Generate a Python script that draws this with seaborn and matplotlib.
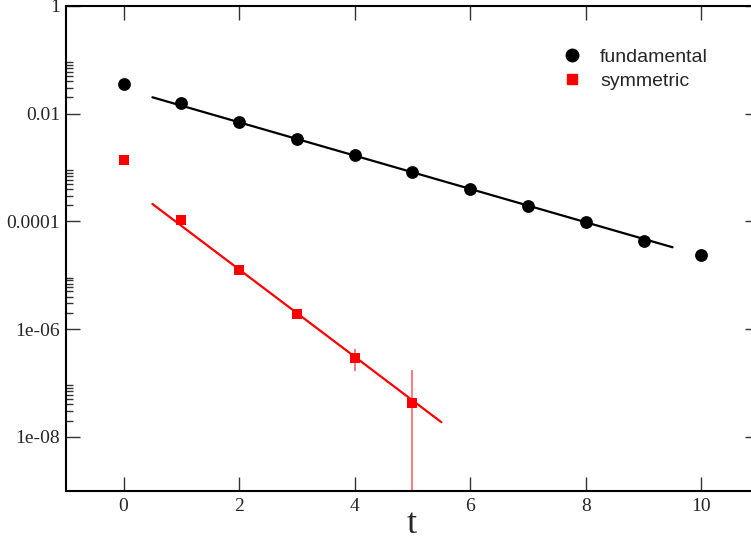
import numpy as np
import pandas as pd
import seaborn as sns
import matplotlib.pyplot as plt
from matplotlib.lines import Line2D
from matplotlib.ticker import FixedLocator, NullLocator

# data
t_vals = [0, 1, 2, 3, 4, 5, 6, 7, 8, 9, 10]
fund_vals = [0.0356, 0.0156, 0.00711, 0.00344, 0.00168, 8.17e-4,
             3.95e-4, 1.96e-4, 9.64e-5, 4.39e-5, 2.38e-5]
sym_t = [0, 1, 2, 3, 4, 5]
sym_vals = [1.41e-3, 1.06e-4, 1.25e-5, 1.95e-6, 2.95e-7, 4.20e-8]
sym_err = [0.0, 0.0, 0.0, 0.0, 1.28e-7, 1.32e-7]
fund_fit_t = [0.5, 9.5]
fund_fit_vals = [0.0202, 3.31e-5]
sym_fit_t = [0.5, 5.5]
sym_fit_vals = [2.11e-4, 1.87e-8]
y_major = [1e-8, 1e-6, 1e-4, 1e-2, 1]
y_major_labels = ["1e-08", "1e-06", "0.0001", "0.01", "1"]
x_major = [0, 2, 4, 6, 8, 10]

fund_df = pd.DataFrame({"t": t_vals, "C": fund_vals})
sym_df = pd.DataFrame({"t": sym_t, "C": sym_vals, "err": sym_err})
fund_fit = pd.DataFrame({"t": fund_fit_t, "C": fund_fit_vals})
sym_fit = pd.DataFrame({"t": sym_fit_t, "C": sym_fit_vals})

sns.set_style("ticks")
plt.rcParams["font.family"] = ["Liberation Serif", "DejaVu Serif"]

W, H = 751, 541
fig = plt.figure(figsize=(W / 100, H / 100), dpi=100)
ax = fig.add_axes([65.7 / W, (H - 490.7) / H, 693.6 / W, 484.7 / H])
ax.set_yscale("log")

# error bars (only visible ones exceed marker size)
ax.errorbar(sym_df["t"], sym_df["C"], yerr=sym_df["err"], fmt="none",
            ecolor="#ff7070", elinewidth=1.3, capsize=0, zorder=1)

sns.lineplot(data=fund_fit, x="t", y="C", color="black", linewidth=1.6,
             ax=ax, zorder=2)
sns.lineplot(data=sym_fit, x="t", y="C", color="red", linewidth=1.6,
             ax=ax, zorder=2)

sns.scatterplot(data=fund_df, x="t", y="C", marker="o", color="black",
                s=85, linewidth=0, ax=ax, zorder=3)
sns.scatterplot(data=sym_df, x="t", y="C", marker="s", color="red",
                s=55, linewidth=0, ax=ax, zorder=3)

ax.set_xlim(-1, 11)
ax.set_ylim(1e-9, 1)

ax.xaxis.set_major_locator(FixedLocator(x_major))
ax.xaxis.set_minor_locator(NullLocator())
ax.set_xticklabels([str(v) for v in x_major])
ax.yaxis.set_major_locator(FixedLocator(y_major))
y_minor = [k * 10.0 ** e for e in (-8, -6, -4, -2) for k in range(2, 10)]
ax.yaxis.set_minor_locator(FixedLocator(y_minor))
ax.set_yticklabels(y_major_labels)

ax.tick_params(which="both", direction="in", top=True, right=True,
               color="#333333", width=1.0, labelsize=14)
ax.tick_params(which="major", length=10)
ax.tick_params(which="minor", length=5)
ax.tick_params(axis="y", pad=4)
ax.tick_params(axis="x", pad=5)

for sp in ax.spines.values():
    sp.set_visible(True)
    sp.set_linewidth(1.5)
    sp.set_color("black")

ax.set_xlabel("")
ax.set_ylabel("")
fig.text(412 / W, 1 - 533 / H, "t", fontsize=26, ha="center", va="baseline")

handles = [
    Line2D([], [], marker="o", color="black", linestyle="none", markersize=9),
    Line2D([], [], marker="s", color="red", linestyle="none", markersize=7.5),
]
ax.legend(handles, ["fundamental", "symmetric"], loc="upper left",
          bbox_to_anchor=(562 / W, 1 - 48.6 / H),
          bbox_transform=fig.transFigure, frameon=False, handlelength=1.0,
          handletextpad=0.96, labelspacing=0.32, borderpad=0,
          borderaxespad=0, prop={"family": "Liberation Sans", "size": 14})

fig.savefig("out.png", dpi=100)
